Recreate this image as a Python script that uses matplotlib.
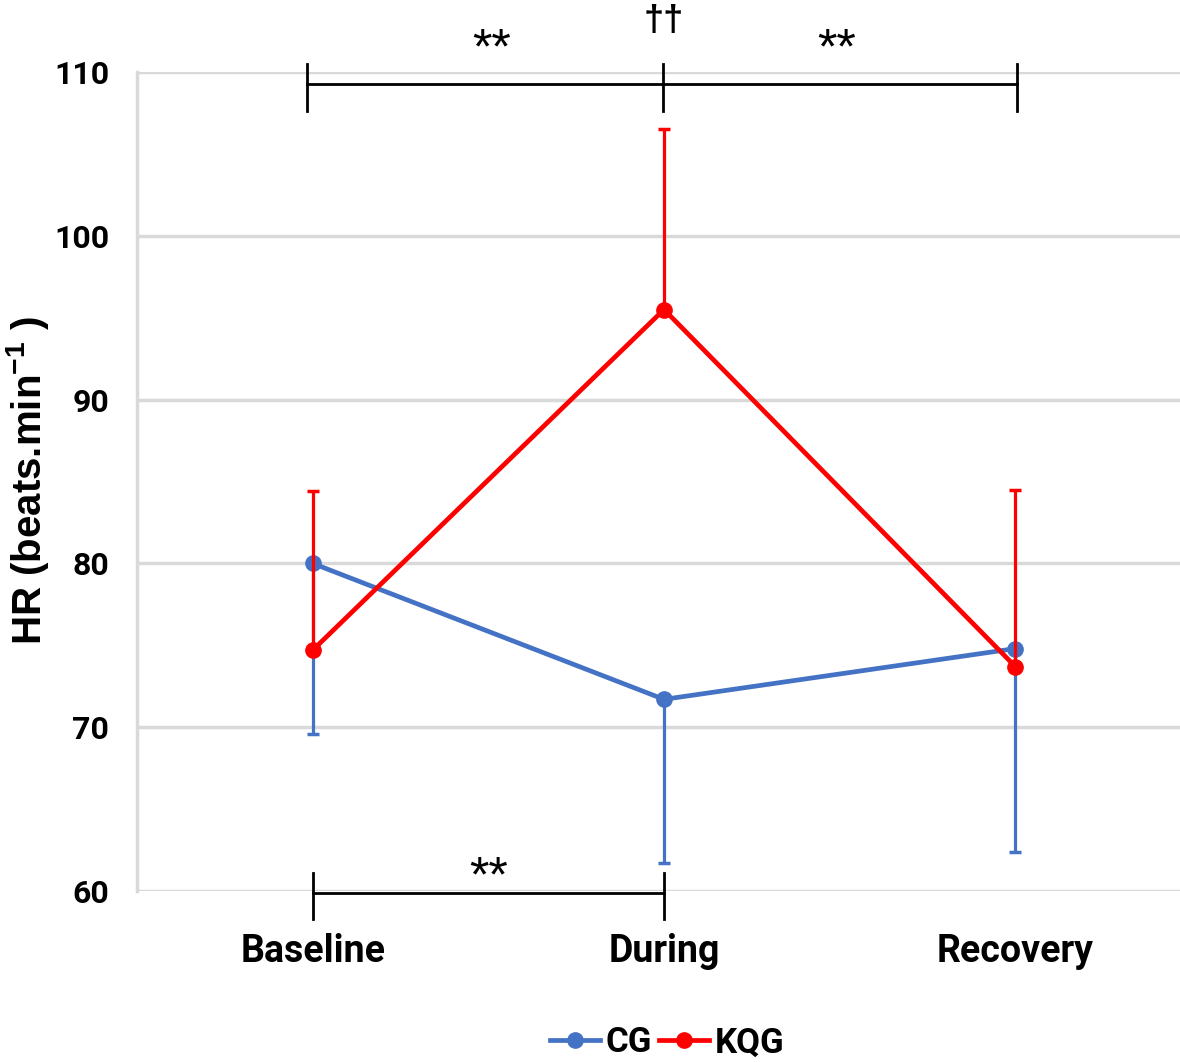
import matplotlib
matplotlib.use("Agg")
import matplotlib.pyplot as plt
from matplotlib import font_manager
from matplotlib.lines import Line2D

# data
phases = ["Baseline", "During", "Recovery"]
cg_mean = [80.0, 71.7, 74.8]
cg_err_low = [10.4, 10.0, 12.4]     # CG bars only drawn downward
kqg_mean = [74.7, 95.5, 73.7]
kqg_err_high = [9.7, 11.0, 10.8]    # KQG bars only drawn upward
y_ticks = [60, 70, 80, 90, 100, 110]

BLUE = "#4472C4"
RED = "#FF0000"
GRID = "#D9D9D9"

names = {f.name for f in font_manager.fontManager.ttflist}
narrow = "Liberation Sans Narrow" if "Liberation Sans Narrow" in names else "Roboto"
wide = "Liberation Sans"

plt.rcParams["mathtext.fontset"] = "custom"
plt.rcParams["mathtext.rm"] = wide
plt.rcParams["mathtext.bf"] = wide + ":bold"

fig = plt.figure(figsize=(11.8, 10.62), dpi=100)
W, H = 1180, 1062
# axes goes a bit past the right edge, as in the reference
ax = fig.add_axes([137 / W, (H - 891) / H, (1191 - 137) / W, (891 - 72) / H])

x = list(range(len(phases)))


def one_sided_bars(xs, starts, ends, color, z):
    ax.vlines(xs, starts, ends, color=color, lw=2.3, zorder=z)
    ax.plot(xs, ends, ls="none", marker="_", ms=9, mew=2.5, color=color, zorder=z)


one_sided_bars(x, cg_mean, [m - e for m, e in zip(cg_mean, cg_err_low)], BLUE, 3)
ax.plot(x, cg_mean, color=BLUE, lw=3.4, marker="o", ms=11, zorder=3)
one_sided_bars(x, kqg_mean, [m + e for m, e in zip(kqg_mean, kqg_err_high)], RED, 4)
ax.plot(x, kqg_mean, color=RED, lw=3.4, marker="o", ms=11, zorder=4)

ax.set_xlim(-0.5, 2.5)
ax.set_ylim(60, 110)
ax.set_yticks(y_ticks)
ax.set_xticks(x)
ax.set_xticklabels(phases, fontsize=27, fontweight="bold", fontfamily=narrow)
ax.set_yticklabels([str(v) for v in y_ticks], fontsize=23, fontweight="bold", fontfamily=narrow)
ax.tick_params(axis="both", length=0)
ax.tick_params(axis="x", pad=30)
ax.tick_params(axis="y", pad=20)

ax.yaxis.grid(True, color=GRID, lw=2.5)
ax.set_axisbelow(True)
for s in ["top", "right", "bottom"]:
    ax.spines[s].set_visible(False)
ax.spines["left"].set_color(GRID)
ax.spines["left"].set_linewidth(2.5)

# significance brackets
k = dict(color="black", lw=2, clip_on=False, zorder=5)
ax.plot([-0.015, 2.006], [109.25, 109.25], **k)
for bx in [-0.015, 0.997, 2.006]:
    ax.plot([bx, bx], [107.6, 110.5], **k)
ax.plot([0.0, 1.0], [59.9, 59.9], **k)
for bx in [0.0, 1.0]:
    ax.plot([bx, bx], [58.3, 61.1], **k)

star = dict(fontsize=36, fontfamily=wide, ha="center", va="center", clip_on=False)
ax.text(0.51, 111.3, "**", **star)
ax.text(1.49, 111.3, "**", **star)
ax.text(0.50, 60.8, "**", **star)
ax.text(1.0, 113.1, "\u2020\u2020", fontsize=26, fontweight="bold", fontfamily=wide,
        ha="center", va="center")

fig.text(28 / W, 1 - 481 / H, r"HR (beats.min$^{\mathbf{-1}}$ )", rotation=90,
         fontsize=29, fontweight="bold", fontfamily=wide, ha="center", va="center")

handles = [Line2D([], [], color=BLUE, lw=3.4, marker="o", ms=11),
           Line2D([], [], color=RED, lw=3.4, marker="o", ms=11)]
fig.legend(handles, ["CG", "KQG"], loc="center", bbox_to_anchor=(667 / W, 1 - 1043 / H),
           ncol=2, frameon=False, handlelength=1.45, handletextpad=0.15, columnspacing=0.2,
           prop=dict(family=narrow, weight="bold", size=25))

fig.savefig("out.png", dpi=100)
